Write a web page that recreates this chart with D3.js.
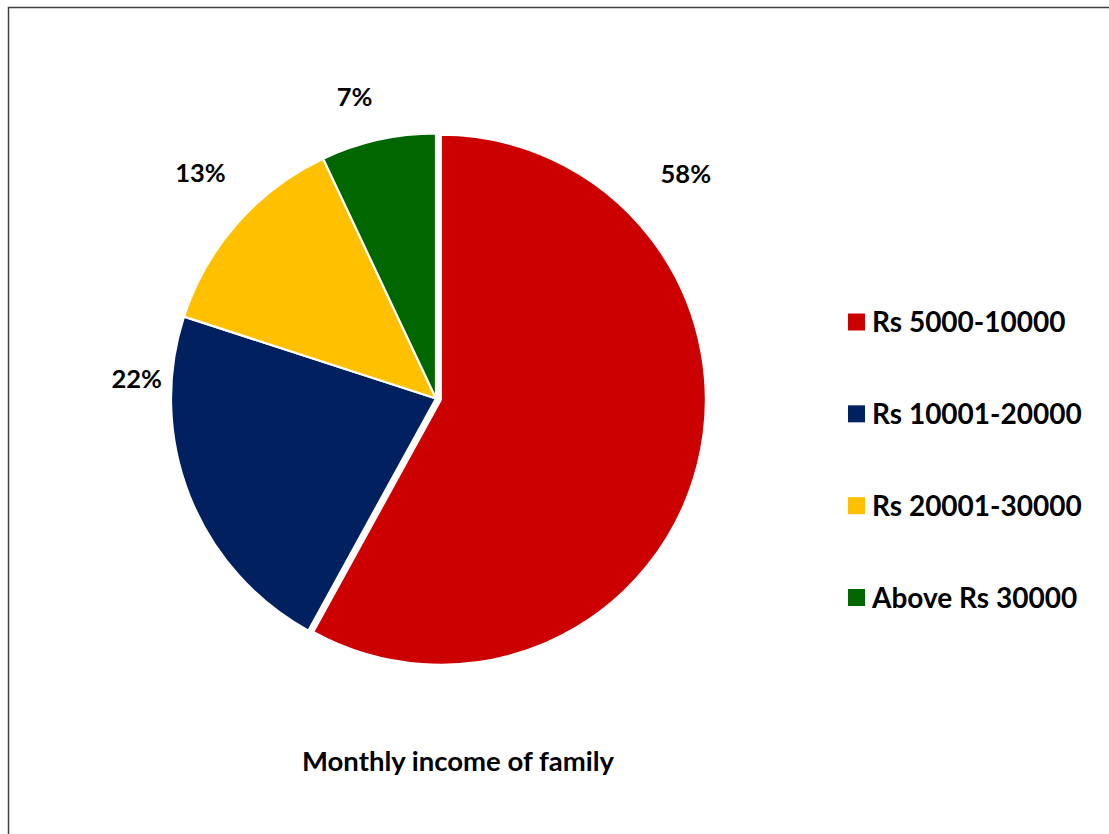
<!DOCTYPE html>
<html>
<head>
<meta charset="utf-8">
<script src="https://cdn.jsdelivr.net/npm/d3@7/dist/d3.min.js"></script>
<style>
  html, body { margin: 0; padding: 0; background: #ffffff; }
  svg { display: block; }
  text { font-family: Lato, "Open Sans", sans-serif; font-weight: bold; fill: #000; }
</style>
</head>
<body>
<svg id="chart" width="1109" height="834"></svg>
<script>
// ---- data ----
const categories = ["Rs 5000-10000", "Rs 10001-20000", "Rs 20001-30000", "Above Rs 30000"];
const values = [58, 22, 13, 7];
const labels = ["58%", "22%", "13%", "7%"];
const colors = ["#CC0000", "#002060", "#FFC000", "#006600"];
const title = "Monthly income of family";

// ---- layout config ----
const W = 1109, H = 834;
const cx = 436, cy = 398.5, R = 265;
const explode = [5, 0, 0, 0];
const labelFrac = [0.23, 0.82, 0.55, 0.40];   // where along each slice its label sits
const labelDist = [336, 300, 326, 312];        // distance of label centre from pie centre

const svg = d3.select("#chart");

// frame
svg.append("rect")
  .attr("x", 8.5).attr("y", 7.5)
  .attr("width", W + 20).attr("height", H + 20)
  .attr("fill", "none").attr("stroke", "#404040").attr("stroke-width", 1.5);

const pie = d3.pie().sort(null).value(d => d)(values);
const arc = d3.arc().innerRadius(0).outerRadius(R);

const g = svg.append("g").attr("transform", `translate(${cx},${cy})`);

g.selectAll("path.slice")
  .data(pie)
  .join("path")
  .attr("class", "slice")
  .attr("d", arc)
  .attr("fill", (d, i) => colors[i])
  .attr("stroke", "#ffffff")
  .attr("stroke-width", 2.2)
  .attr("stroke-linejoin", "miter")
  .attr("transform", (d, i) => {
    const mid = (d.startAngle + d.endAngle) / 2;
    const [ox, oy] = d3.pointRadial(mid, explode[i]);
    return `translate(${ox},${oy})`;
  });

// data labels
g.selectAll("text.lbl")
  .data(pie)
  .join("text")
  .attr("class", "lbl")
  .attr("text-anchor", "middle")
  .attr("dy", "0.36em")
  .attr("font-size", 25.5)
  .attr("transform", (d, i) => {
    const a = d.startAngle + labelFrac[i] * (d.endAngle - d.startAngle);
    const [x, y] = d3.pointRadial(a, labelDist[i]);
    return `translate(${x},${y})`;
  })
  .text((d, i) => labels[i]);

// legend
const legendY = d3.scalePoint().domain(categories).range([322, 597.5]);
const lg = svg.append("g");
const items = lg.selectAll("g.item")
  .data(categories)
  .join("g")
  .attr("class", "item")
  .attr("transform", d => `translate(848,${legendY(d)})`);
items.append("rect")
  .attr("x", 0).attr("y", -8.5)
  .attr("width", 17).attr("height", 17)
  .attr("fill", (d, i) => colors[i]);
items.append("text")
  .attr("x", 24).attr("y", 0).attr("dy", "0.36em")
  .attr("font-size", 28)
  .text(d => d);

// title
svg.append("text")
  .attr("x", 458).attr("y", 771)
  .attr("text-anchor", "middle")
  .attr("font-size", 27.5)
  .text(title);
</script>
</body>
</html>
